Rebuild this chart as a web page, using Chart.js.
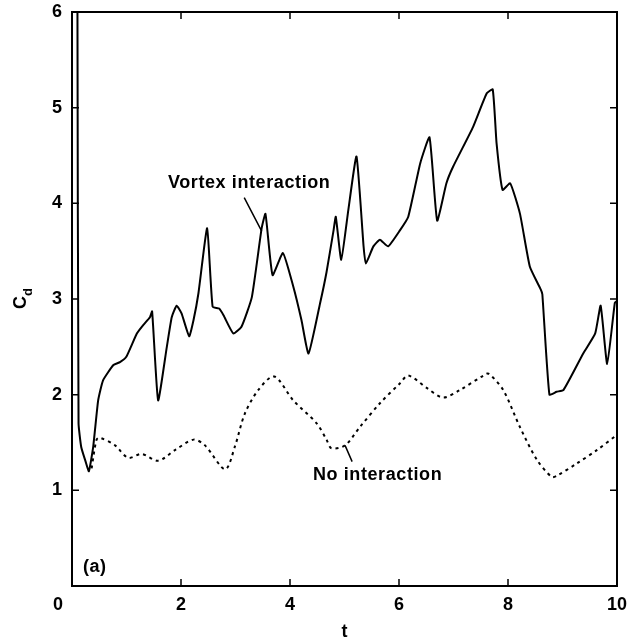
<!DOCTYPE html>
<html>
<head>
<meta charset="utf-8">
<script src="https://cdn.jsdelivr.net/npm/chart.js@4/dist/chart.umd.min.js"></script>
<style>
  body { margin: 0; background: #fff; }
  .chart-container { position: relative; width: 637px; height: 644px; }
</style>
</head>
<body>
<div class="chart-container"><canvas id="chart"></canvas></div>
<script>
// Cd against t
const tVortex = [0.10, 0.12, 0.17, 0.25, 0.31, 0.39, 0.48, 0.57, 0.76, 0.88, 1.00, 1.19, 1.31, 1.43, 1.47,
  1.58, 1.74, 1.83, 1.92, 2.01, 2.15, 2.23, 2.32, 2.48, 2.58, 2.70, 2.78, 2.96, 3.11, 3.30, 3.48, 3.55,
  3.68, 3.87, 4.06, 4.21, 4.34, 4.55, 4.67, 4.80, 4.84, 4.94, 5.07, 5.22, 5.35, 5.39, 5.53, 5.65, 5.80,
  6.02, 6.17, 6.39, 6.56, 6.70, 6.87, 6.99, 7.36, 7.61, 7.72, 7.79, 7.90, 8.04, 8.22, 8.40, 8.60, 8.63,
  8.76, 8.89, 9.02, 9.38, 9.60, 9.70, 9.82, 9.96, 10.00];
const cdVortex = [6.00, 1.70, 1.45, 1.30, 1.20, 1.46, 1.94, 2.15, 2.31, 2.34, 2.40, 2.64, 2.73, 2.81, 2.87,
  1.94, 2.50, 2.81, 2.93, 2.85, 2.61, 2.78, 3.06, 3.74, 2.92, 2.90, 2.83, 2.64, 2.71, 3.02, 3.74, 3.89,
  3.25, 3.48, 3.13, 2.78, 2.43, 2.95, 3.28, 3.72, 3.86, 3.41, 3.93, 4.49, 3.55, 3.37, 3.55, 3.62, 3.55,
  3.72, 3.86, 4.42, 4.69, 3.82, 4.21, 4.38, 4.80, 5.15, 5.19, 4.63, 4.14, 4.21, 3.89, 3.34, 3.10, 3.05,
  2.00, 2.03, 2.05, 2.43, 2.64, 2.93, 2.32, 2.96, 2.98];

const tNoInteraction = [0.36, 0.45, 0.51, 0.79, 1.03, 1.28, 1.58, 1.89, 2.23, 2.44, 2.81, 2.99, 3.17, 3.42,
  3.71, 4.06, 4.49, 4.67, 4.76, 5.01, 5.28, 5.65, 6.02, 6.17, 6.51, 6.81, 7.12, 7.55, 7.64, 7.91, 8.22,
  8.53, 8.80, 8.89, 9.26, 9.63, 10.00];
const cdNoInteraction = [1.23, 1.53, 1.55, 1.47, 1.34, 1.38, 1.31, 1.42, 1.53, 1.47, 1.22, 1.46, 1.80, 2.05,
  2.19, 1.94, 1.70, 1.53, 1.44, 1.47, 1.66, 1.91, 2.12, 2.20, 2.07, 1.97, 2.05, 2.20, 2.22, 2.05, 1.66,
  1.32, 1.14, 1.15, 1.28, 1.42, 1.58];

const xTicks = [0, 2, 4, 6, 8, 10];
const yTicks = [0, 1, 2, 3, 4, 5, 6];

const FONT = 'bold 18px "Liberation Sans", Arial, sans-serif';

const toPoints = (xs, ys) => xs.map((x, i) => ({ x: x, y: ys[i] }));

// box, inward ticks, axis titles and the text labels
const framePlugin = {
  id: 'frame',
  afterDraw(chart) {
    const ctx = chart.ctx;
    const a = chart.chartArea;
    const xs = chart.scales.x;
    const ys = chart.scales.y;
    const tick = 7;

    ctx.save();
    ctx.strokeStyle = '#000';
    ctx.lineWidth = 2;
    ctx.strokeRect(a.left, a.top, a.right - a.left, a.bottom - a.top);

    ctx.lineWidth = 1.5;
    ctx.beginPath();
    xTicks.forEach(v => {
      const px = xs.getPixelForValue(v);
      ctx.moveTo(px, a.bottom); ctx.lineTo(px, a.bottom - tick);
      ctx.moveTo(px, a.top); ctx.lineTo(px, a.top + tick);
    });
    yTicks.forEach(v => {
      const py = ys.getPixelForValue(v);
      ctx.moveTo(a.left, py); ctx.lineTo(a.left + tick, py);
      ctx.moveTo(a.right, py); ctx.lineTo(a.right - tick, py);
    });
    ctx.stroke();

    ctx.fillStyle = '#000';
    ctx.font = FONT;

    // corner zero sits left of the axis
    ctx.textAlign = 'center';
    ctx.textBaseline = 'middle';
    ctx.fillText('0', xs.getPixelForValue(0) - 14, 605);

    // x title
    ctx.fillText('t', (a.left + a.right) / 2, 632);

    // y title C_d
    ctx.save();
    ctx.translate(21, (a.top + a.bottom) / 2);
    ctx.rotate(-Math.PI / 2);
    ctx.textAlign = 'left';
    ctx.textBaseline = 'middle';
    ctx.fillText('C', -10, 0);
    const cw = ctx.measureText('C').width;
    ctx.font = 'bold 13px "Liberation Sans", Arial, sans-serif';
    ctx.fillText('d', -10 + cw, 7);
    ctx.restore();

    // annotations
    ctx.font = FONT;
    ctx.letterSpacing = '0.6px';
    ctx.textAlign = 'left';
    ctx.textBaseline = 'middle';
    ctx.fillText('Vortex interaction', xs.getPixelForValue(1.76), ys.getPixelForValue(4.21));
    ctx.fillText('No interaction', xs.getPixelForValue(4.42), ys.getPixelForValue(1.16));
    ctx.fillText('(a)', xs.getPixelForValue(0.2), ys.getPixelForValue(0.2));
    ctx.letterSpacing = '0px';

    ctx.lineWidth = 1.5;
    ctx.beginPath();
    ctx.moveTo(xs.getPixelForValue(3.16), ys.getPixelForValue(4.06));
    ctx.lineTo(xs.getPixelForValue(3.48), ys.getPixelForValue(3.71));
    ctx.moveTo(xs.getPixelForValue(5.01), ys.getPixelForValue(1.47));
    ctx.lineTo(xs.getPixelForValue(5.14), ys.getPixelForValue(1.30));
    ctx.stroke();
    ctx.restore();
  }
};

new Chart(document.getElementById('chart'), {
  type: 'line',
  data: {
    datasets: [
      {
        label: 'Vortex interaction',
        data: toPoints(tVortex, cdVortex),
        borderColor: '#000',
        borderWidth: 2,
        pointRadius: 0,
        tension: 0.15,
        fill: false
      },
      {
        label: 'No interaction',
        data: toPoints(tNoInteraction, cdNoInteraction),
        borderColor: '#000',
        borderWidth: 2,
        borderDash: [3, 4],
        pointRadius: 0,
        tension: 0.3,
        fill: false
      }
    ]
  },
  options: {
    responsive: true,
    maintainAspectRatio: false,
    animation: false,
    layout: { padding: { top: 12, right: 20, left: 0, bottom: 0 } },
    plugins: {
      legend: { display: false },
      tooltip: { enabled: false }
    },
    scales: {
      x: {
        type: 'linear',
        min: 0,
        max: 10,
        grid: { display: false, drawTicks: false },
        border: { display: false },
        ticks: {
          stepSize: 2,
          padding: 8,
          color: '#000',
          font: { family: '"Liberation Sans", Arial, sans-serif', size: 18, weight: 'bold' },
          maxRotation: 0,
          callback: v => (v === 0 ? '' : v)
        },
        afterFit: scale => { scale.height = 58; scale.paddingLeft = 0; scale.paddingRight = 0; }
      },
      y: {
        type: 'linear',
        min: 0,
        max: 6,
        grid: { display: false, drawTicks: false },
        border: { display: false },
        ticks: {
          stepSize: 1,
          padding: 10,
          color: '#000',
          font: { family: '"Liberation Sans", Arial, sans-serif', size: 18, weight: 'bold' },
          callback: v => (v === 0 ? '' : v)
        },
        afterFit: scale => { scale.width = 72; scale.paddingTop = 0; scale.paddingBottom = 0; }
      }
    }
  },
  plugins: [framePlugin]
});
</script>
</body>
</html>
